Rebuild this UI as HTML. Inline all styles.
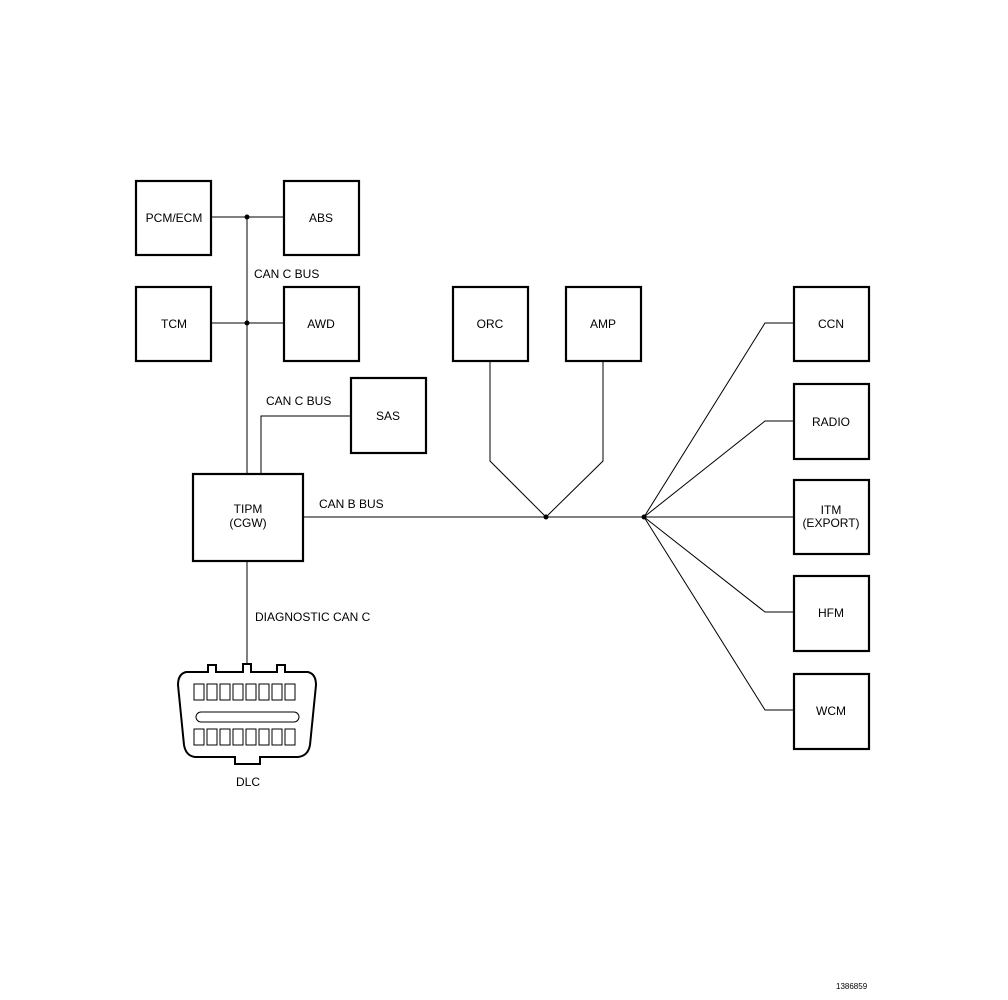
<!DOCTYPE html>
<html><head><style>body{margin:0;background:#fff}svg{display:block}text{font-family:"Liberation Sans",sans-serif;font-size:12px;fill:#000}</style></head><body>
<svg width="1008" height="1000" viewBox="0 0 1008 1000">
<g fill="none" stroke="#000" stroke-width="2.2">
<rect x="136" y="181" width="75" height="74"/>
<rect x="284" y="181" width="75" height="74"/>
<rect x="136" y="287" width="75" height="74"/>
<rect x="284" y="287" width="75" height="74"/>
<rect x="351" y="378" width="75" height="75"/>
<rect x="193" y="474" width="110" height="87"/>
<rect x="453" y="287" width="75" height="74"/>
<rect x="566" y="287" width="75" height="74"/>
<rect x="794" y="287" width="75" height="74"/>
<rect x="794" y="384" width="75" height="75"/>
<rect x="794" y="480" width="75" height="74"/>
<rect x="794" y="576" width="75" height="75"/>
<rect x="794" y="674" width="75" height="75"/>
</g>
<g fill="none" stroke="#000" stroke-width="1">
<line x1="211" y1="217" x2="284" y2="217"/>
<line x1="211" y1="323" x2="284" y2="323"/>
<line x1="247" y1="217" x2="247" y2="474"/>
<polyline points="261,474 261,416 351,416"/>
<line x1="303" y1="517" x2="794" y2="517"/>
<polyline points="490,361 490,461 546,517 603,461 603,361"/>
<polyline points="644,517 765,323 794,323"/>
<polyline points="644,517 765,421 794,421"/>
<polyline points="644,517 765,612 794,612"/>
<polyline points="644,517 765,710 794,710"/>
<line x1="247" y1="561" x2="247" y2="664"/>
</g>
<g fill="#000"><circle cx="247" cy="217" r="2.5"/><circle cx="247" cy="323" r="2.5"/><circle cx="546" cy="517" r="2.5"/><circle cx="644" cy="517" r="2.5"/></g>
<g fill="#fff" stroke="#000" stroke-width="2">
<path d="M186,672 L208,672 L208,665 L216,665 L216,672 L243,672 L243,664 L251,664 L251,672 L277,672 L277,665 L285,665 L285,672 L308,672 Q316,674 316,685 L310,745 Q308,756 298,757 L260,757 L260,764 L235,764 L235,757 L195,757 Q186,756 184,745 L178,685 Q178,674 186,672 Z"/>
</g>
<g fill="none" stroke="#000" stroke-width="1">
<rect x="196" y="712" width="103" height="10" rx="5"/>
<g id="r1">
<rect x="194" y="684" width="10" height="16"/><rect x="207" y="684" width="10" height="16"/><rect x="220" y="684" width="10" height="16"/><rect x="233" y="684" width="10" height="16"/><rect x="246" y="684" width="10" height="16"/><rect x="259" y="684" width="10" height="16"/><rect x="272" y="684" width="10" height="16"/><rect x="285" y="684" width="10" height="16"/>
</g>
<use href="#r1" y="45"/>
</g>
<g text-anchor="middle">
<text x="174" y="222">PCM/ECM</text><text x="321" y="222">ABS</text>
<text x="174" y="328">TCM</text><text x="321" y="328">AWD</text>
<text x="388" y="420">SAS</text>
<text x="248" y="513">TIPM</text><text x="248" y="527">(CGW)</text>
<text x="490" y="328">ORC</text><text x="603" y="328">AMP</text>
<text x="831" y="328">CCN</text><text x="831" y="426">RADIO</text>
<text x="831" y="514">ITM</text><text x="831" y="527">(EXPORT)</text>
<text x="831" y="617">HFM</text><text x="831" y="715">WCM</text>
<text x="248" y="786">DLC</text>
</g>
<text x="254" y="278">CAN C BUS</text>
<text x="266" y="405">CAN C BUS</text>
<text x="319" y="508">CAN B BUS</text>
<text x="255" y="621">DIAGNOSTIC CAN C</text>
<text x="836" y="989" style="font-size:8px">1386859</text>
</svg>
</body></html>
